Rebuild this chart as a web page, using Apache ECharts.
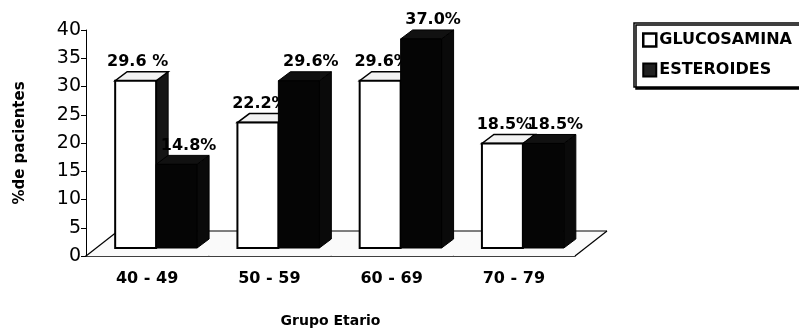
<!DOCTYPE html>
<html>
<head>
<meta charset="utf-8">
<script src="https://cdn.jsdelivr.net/npm/echarts@6/dist/echarts.min.js"></script>
<style>
  html, body { margin: 0; padding: 0; background: #fff; }
  #chart { width: 799px; height: 331px; }
</style>
</head>
<body>
<div id="chart"></div>
<script>
// datos
var categories = ['40 - 49', '50 - 59', '60 - 69', '70 - 79'];
var glucosamina = [29.6, 22.2, 29.6, 18.5];
var esteroides = [14.8, 29.6, 37.0, 18.5];
var glucLabels = ['29.6 %', '22.2%', '29.6%', '18.5%'];
var estLabels = ['14.8%', '29.6%', '37.0%', '18.5%'];
var yTicks = [0, 40, 5];

var myChart = echarts.init(document.getElementById('chart'));

// profundidad "3D" en pixeles
var DX = 12, DY = -9, LIFT = 8, SHIFT = 9;
var FLOOR_DX = 32, FLOOR_DY = -25;

function barRenderer(which, labels) {
    return function (params, api) {
        var idx = api.value(0), val = api.value(1);
        var base = api.coord([idx, 0]);
        var top = api.coord([idx, val]);
        var band = api.size([1, 0])[0];
        var w = band * 0.335;
        var x0 = base[0] + SHIFT + (which === 0 ? -w : 0);
        var x1 = x0 + w;
        var yB = base[1] - LIFT, yT = top[1] - LIFT;
        var white = which === 0;
        var frontStyle = white ? { fill: '#fff', stroke: '#000', lineWidth: 2 } : { fill: '#050505', stroke: '#000', lineWidth: 1 };
        var topStyle = white ? { fill: '#f2f2f2', stroke: '#000', lineWidth: 1.5 } : { fill: '#111', stroke: '#000', lineWidth: 1 };
        var sideStyle = white ? { fill: '#151515', stroke: '#000', lineWidth: 1 } : { fill: '#0a0a0a', stroke: '#000', lineWidth: 1 };
        return {
            type: 'group',
            children: [
                { type: 'polygon', shape: { points: [[x1, yT], [x1 + DX, yT + DY], [x1 + DX, yB + DY], [x1, yB]] }, style: sideStyle },
                { type: 'polygon', shape: { points: [[x0, yT], [x1, yT], [x1 + DX, yT + DY], [x0 + DX, yT + DY]] }, style: topStyle },
                { type: 'rect', shape: { x: x0, y: yT, width: w, height: yB - yT }, style: frontStyle },
                {
                    type: 'text',
                    x: (x0 + x1) / 2 + (white ? 2 : 12),
                    y: yT + DY - 2,
                    style: {
                        text: labels[idx],
                        font: 'bold 16px "DejaVu Sans"',
                        fill: '#000',
                        align: 'center',
                        verticalAlign: 'bottom'
                    }
                }
            ]
        };
    };
}

function floorRenderer(params, api) {
    var idx = api.value(0);
    var c = api.coord([idx, 0]);
    var band = api.size([1, 0])[0];
    var l = c[0] - band / 2, r = c[0] + band / 2, y = c[1];
    var children = [
        { type: 'polygon', shape: { points: [[l, y], [r, y], [r + FLOOR_DX, y + FLOOR_DY], [l + FLOOR_DX, y + FLOOR_DY]] }, style: { fill: '#fafafa' } },
        { type: 'line', shape: { x1: l + FLOOR_DX, y1: y + FLOOR_DY, x2: r + FLOOR_DX, y2: y + FLOOR_DY }, style: { stroke: '#000', lineWidth: 1.2 } }
    ];
    if (idx === 0) {
        children.push({ type: 'line', shape: { x1: l, y1: y, x2: l + FLOOR_DX, y2: y + FLOOR_DY }, style: { stroke: '#000', lineWidth: 1.2 } });
    }
    if (idx === categories.length - 1) {
        children.push({ type: 'line', shape: { x1: r, y1: y, x2: r + FLOOR_DX, y2: y + FLOOR_DY }, style: { stroke: '#000', lineWidth: 1.2 } });
    }
    return { type: 'group', children: children };
}

var option = {
    backgroundColor: '#fff',
    animation: false,
    grid: { left: 86, right: 224, top: 30, bottom: 75, outerBoundsMode: 'none', containLabel: false },
    legend: {
        orient: 'vertical',
        left: 634,
        top: 23,
        padding: [9, 60, 9, 8],
        itemGap: 14,
        itemWidth: 13,
        itemHeight: 13,
        icon: 'rect',
        borderColor: '#000',
        borderWidth: 1.5,
        backgroundColor: '#fff',
        shadowColor: '#000',
        shadowOffsetX: 2,
        shadowOffsetY: 2,
        shadowBlur: 0,
        textStyle: { fontFamily: 'DejaVu Sans', fontSize: 16, fontWeight: 'bold', color: '#000', padding: [0, 0, 0, -2] },
        data: [
            { name: 'GLUCOSAMINA', itemStyle: { color: '#fff', borderColor: '#000', borderWidth: 2.5 } },
            { name: 'ESTEROIDES', itemStyle: { color: '#222', borderColor: '#000', borderWidth: 2 } }
        ]
    },
    xAxis: {
        type: 'category',
        data: categories,
        name: 'Grupo Etario',
        nameLocation: 'middle',
        nameGap: 58,
        nameTextStyle: { fontFamily: 'DejaVu Sans', fontSize: 14, fontWeight: 'bold', color: '#000' },
        axisLine: { lineStyle: { color: '#000', width: 1.5 } },
        axisTick: { length: 4, lineStyle: { color: '#000' } },
        axisLabel: { fontFamily: 'DejaVu Sans', fontSize: 16, fontWeight: 'bold', color: '#000', margin: 15 }
    },
    yAxis: {
        type: 'value',
        min: yTicks[0],
        max: yTicks[1],
        interval: yTicks[2],
        name: '%de pacientes',
        nameLocation: 'middle',
        nameRotate: 90,
        nameGap: 58,
        nameTextStyle: { fontFamily: 'DejaVu Sans', fontSize: 15, fontWeight: 'bold', color: '#000' },
        axisLine: { show: true, lineStyle: { color: '#000', width: 1 } },
        axisTick: { show: true, length: 5, lineStyle: { color: '#000' } },
        axisLabel: { fontFamily: 'DejaVu Sans', fontSize: 19, color: '#000', margin: 5 },
        splitLine: { show: false }
    },
    series: [
        {
            name: 'piso',
            type: 'custom',
            z: 1,
            renderItem: floorRenderer,
            data: categories.map(function (c, i) { return [i, 0]; })
        },
        {
            name: 'GLUCOSAMINA',
            type: 'custom',
            z: 2,
            itemStyle: { color: '#fff' },
            renderItem: barRenderer(0, glucLabels),
            data: glucosamina.map(function (v, i) { return [i, v]; })
        },
        {
            name: 'ESTEROIDES',
            type: 'custom',
            z: 3,
            itemStyle: { color: '#000' },
            renderItem: barRenderer(1, estLabels),
            data: esteroides.map(function (v, i) { return [i, v]; })
        }
    ]
};

myChart.setOption(option);
</script>
</body>
</html>
